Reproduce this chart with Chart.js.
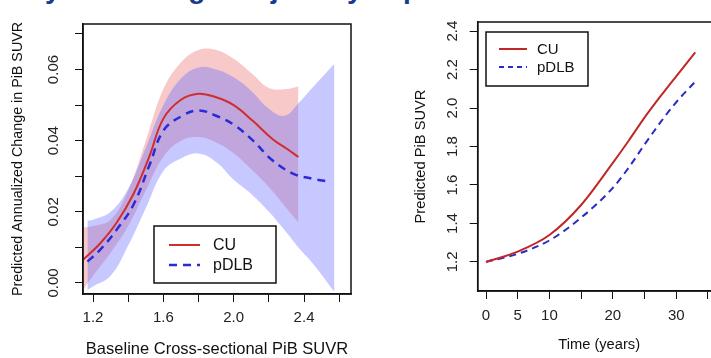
<!DOCTYPE html>
<html lang="en">
<head>
<meta charset="UTF-8">
<title>PiB SUVR change</title>
<style>
    html, body { margin: 0; padding: 0; background: #fff; overflow: hidden; }
    body { width: 711px; height: 358px; position: relative; font-family: "Liberation Sans", Arial, sans-serif; }
    #title {
        position: absolute; left: 0; top: -25px;
        font-weight: bold; font-size: 28px; line-height: 28px;
        color: #1b3a8c; white-space: nowrap;
    }
    #left { position: absolute; left: 0; top: 0; }
    #right { position: absolute; left: 370px; top: 0; }
</style>
</head>
<body>
<div id="title">Amyloid Change Trajectory in pDLB</div>
<canvas id="left" width="360" height="358" style="width:360px;height:358px"></canvas>
<canvas id="right" width="360" height="358" style="width:360px;height:358px"></canvas>

<script src="https://cdn.jsdelivr.net/npm/chart.js"></script>
<script>
// ---- left panel: annualized change vs baseline PiB SUVR ----
const cuBaseline = [1.145, 1.24, 1.335, 1.43, 1.52, 1.6, 1.7, 1.8, 1.9, 2.0, 2.11, 2.22, 2.3, 2.368];
const cuChange   = [0.0066, 0.0111, 0.0170, 0.0250, 0.0355, 0.0462, 0.0515, 0.0532, 0.0522, 0.0500, 0.0455, 0.0405, 0.0378, 0.0354];

const pdlbBaseline = [1.168, 1.24, 1.335, 1.43, 1.52, 1.6, 1.7, 1.8, 1.9, 2.0, 2.11, 2.22, 2.34, 2.45, 2.55];
const pdlbChange   = [0.0060, 0.0093, 0.0150, 0.0220, 0.0330, 0.0428, 0.0468, 0.0485, 0.0470, 0.0445, 0.0400, 0.0345, 0.0307, 0.0293, 0.0284];

const cuBandX  = [1.143, 1.2, 1.3, 1.4, 1.5, 1.6, 1.7, 1.8, 1.9, 2.0, 2.1, 2.2, 2.3, 2.368];
const cuUpper  = [0.0155, 0.0160, 0.0178, 0.0260, 0.0400, 0.0545, 0.0620, 0.0655, 0.0655, 0.0630, 0.0590, 0.0548, 0.0545, 0.0552];
const cuLower  = [-0.0020, 0.0020, 0.0085, 0.0160, 0.0260, 0.0355, 0.0400, 0.0410, 0.0395, 0.0365, 0.0320, 0.0270, 0.0210, 0.0170];

const pdlbBandX = [1.168, 1.2, 1.3, 1.4, 1.5, 1.6, 1.7, 1.8, 1.9, 2.0, 2.1, 2.2, 2.29, 2.368, 2.45, 2.573];
const pdlbUpper = [0.0175, 0.0178, 0.0200, 0.0265, 0.0380, 0.0500, 0.0575, 0.0606, 0.0600, 0.0578, 0.0540, 0.0490, 0.0470, 0.0505, 0.0550, 0.0616];
const pdlbLower = [-0.0020, -0.0010, 0.0020, 0.0105, 0.0210, 0.0315, 0.0350, 0.0364, 0.0340, 0.0290, 0.0250, 0.0200, 0.0148, 0.0100, 0.0055, -0.0025];

const changeTicks = [0, 0.02, 0.04, 0.06];

// ---- right panel: predicted PiB SUVR over time ----
const timeYears = [0, 5, 10, 15, 20, 22.5, 25, 27.5, 30, 33];
const cuSuvr    = [1.200, 1.254, 1.340, 1.496, 1.715, 1.830, 1.950, 2.060, 2.165, 2.289];
const pdlbSuvr  = [1.200, 1.242, 1.312, 1.430, 1.585, 1.690, 1.810, 1.925, 2.030, 2.137];

const suvrTicks = [1.2, 1.4, 1.6, 1.8, 2.0, 2.2, 2.4];
const timeLabels = [0, 5, 10, 20, 30];

const pts = (xs, ys) => xs.map((x, i) => ({ x: x, y: ys[i] }));

const FONT = '"Liberation Sans", Arial, sans-serif';
Chart.defaults.font.family = FONT;
Chart.defaults.color = '#111';

// box, rotated y tick labels and inset legend, R style
const rPlot = {
    id: 'rPlot',
    afterDraw(chart, args, opts) {
        const { ctx, chartArea: a } = chart;
        const y = chart.scales.y;
        ctx.save();
        ctx.strokeStyle = '#111';
        ctx.lineWidth = 1.5;
        ctx.strokeRect(a.left, a.top, a.right - a.left, a.bottom - a.top);

        ctx.fillStyle = '#222';
        ctx.font = '15px ' + FONT;
        ctx.textAlign = 'center';
        ctx.textBaseline = 'middle';
        opts.yLabels.forEach(v => {
            ctx.save();
            ctx.translate(a.left - opts.labelGap, y.getPixelForValue(v));
            ctx.rotate(-Math.PI / 2);
            ctx.fillText(v.toFixed(opts.digits), 0, 0);
            ctx.restore();
        });

        const lg = opts.legend;
        ctx.fillStyle = '#fff';
        ctx.fillRect(lg.x, lg.y, lg.w, lg.h);
        ctx.strokeStyle = '#111';
        ctx.lineWidth = 1.5;
        ctx.strokeRect(lg.x, lg.y, lg.w, lg.h);
        ctx.font = lg.font + 'px ' + FONT;
        ctx.textAlign = 'left';
        chart.data.datasets.filter(d => d.label).forEach((d, i) => {
            const yy = lg.rows[i];
            ctx.strokeStyle = d.borderColor;
            ctx.lineWidth = d.borderWidth;
            ctx.setLineDash(d.legendDash || d.borderDash || []);
            ctx.beginPath();
            ctx.moveTo(lg.lineX[0], yy);
            ctx.lineTo(lg.lineX[1], yy);
            ctx.stroke();
            ctx.setLineDash([]);
            ctx.fillStyle = '#111';
            ctx.fillText(d.label, lg.textX, yy + 1);
        });
        ctx.restore();
    }
};

function band(data, color, fill, order) {
    return {
        data: data, fill: fill, backgroundColor: color,
        borderColor: 'transparent', borderWidth: 0, pointRadius: 0,
        tension: 0.4, order: order
    };
}

function axisX(min, max, step, labelIf, title, titleSize, height, titlePad, tickPad) {
    return {
        type: 'linear', min: min, max: max,
        ticks: {
            stepSize: step, includeBounds: false, autoSkip: false, maxRotation: 0,
            padding: tickPad, color: '#222', font: { size: 15 },
            callback: v => labelIf(v)
        },
        grid: { drawOnChartArea: false, drawTicks: true, tickLength: 8, color: '#111', lineWidth: 1 },
        border: { display: true, color: '#111', width: 1.5 },
        title: { display: true, text: title, color: '#111', font: { size: titleSize, lineHeight: 1 }, padding: { top: 0, bottom: titlePad } },
        afterFit: s => { s.height = height; }
    };
}

function axisY(min, max, step, title, titleSize, width, titlePad) {
    return {
        type: 'linear', min: min, max: max,
        ticks: { stepSize: step, includeBounds: false, autoSkip: false, callback: () => '' },
        grid: { drawOnChartArea: false, drawTicks: true, tickLength: 8, color: '#111', lineWidth: 1 },
        border: { display: true, color: '#111', width: 1.5 },
        title: { display: true, text: title, color: '#111', font: { size: titleSize, lineHeight: 1 }, padding: { top: titlePad, bottom: 0 } },
        afterFit: s => { s.width = width; }
    };
}

const RED = '#cf2e2e';
const BLUE = '#2b2bd6';

new Chart(document.getElementById('left'), {
    type: 'line',
    data: {
        datasets: [
            { label: 'CU', data: pts(cuBaseline, cuChange), borderColor: RED, borderWidth: 2,
              pointRadius: 0, fill: false, tension: 0.4, order: 0 },
            { label: 'pDLB', data: pts(pdlbBaseline, pdlbChange), borderColor: BLUE, borderWidth: 2.5,
              borderDash: [8, 6], pointRadius: 0, fill: false, tension: 0.4, order: 0 },
            band(pts(pdlbBandX, pdlbUpper), 'rgba(105, 110, 255, 0.38)', '+1', 1),
            band(pts(pdlbBandX, pdlbLower), 'transparent', false, 1),
            band(pts(cuBandX, cuUpper), 'rgba(235, 120, 120, 0.40)', '+1', 2),
            band(pts(cuBandX, cuLower), 'transparent', false, 2)
        ]
    },
    options: {
        responsive: false,
        animation: false,
        layout: { padding: { top: 24, right: 9, left: 0, bottom: 0 } },
        scales: {
            x: axisX(1.143, 2.667, 0.2, v => (Math.round(v * 10) % 4 === 0 ? v.toFixed(1) : ''),
                     'Baseline Cross-sectional PiB SUVR', 16.5, 64, 0, 7),
            y: axisY(-0.0031, 0.0728, 0.01, 'Predicted Annualized Change in PiB SUVR', 14.3, 83, 11)
        },
        plugins: {
            legend: { display: false },
            tooltip: { enabled: false },
            rPlot: {
                yLabels: changeTicks, digits: 2, labelGap: 29,
                legend: { x: 154, y: 226, w: 122, h: 57, rows: [245, 265], lineX: [169, 200], textX: 213, font: 16 }
            }
        }
    },
    plugins: [rPlot]
});

new Chart(document.getElementById('right'), {
    type: 'line',
    data: {
        datasets: [
            { label: 'CU', data: pts(timeYears, cuSuvr), borderColor: '#c02828', borderWidth: 2,
              pointRadius: 0, fill: false, cubicInterpolationMode: 'monotone' },
            { label: 'pDLB', data: pts(timeYears, pdlbSuvr), borderColor: '#2a2ac4', borderWidth: 2,
              borderDash: [7, 5], legendDash: [5, 4], pointRadius: 0, fill: false, cubicInterpolationMode: 'monotone' }
        ]
    },
    options: {
        responsive: false,
        animation: false,
        layout: { padding: { top: 22, right: 9.4, left: 0, bottom: 0 } },
        scales: {
            x: axisX(-1.31, 37, 5, v => (timeLabels.includes(v) ? String(v) : ''),
                     'Time (years)', 14.7, 67, 6, 7.5),
            y: axisY(1.049, 2.447, 0.2, 'Predicted PiB SUVR', 14.7, 107.7, 44)
        },
        plugins: {
            legend: { display: false },
            tooltip: { enabled: false },
            rPlot: {
                yLabels: suvrTicks, digits: 1, labelGap: 25,
                legend: { x: 116, y: 32, w: 102, h: 54, rows: [49, 67], lineX: [129, 157], textX: 167, font: 15 }
            }
        }
    },
    plugins: [rPlot]
});
</script>
</body>
</html>
